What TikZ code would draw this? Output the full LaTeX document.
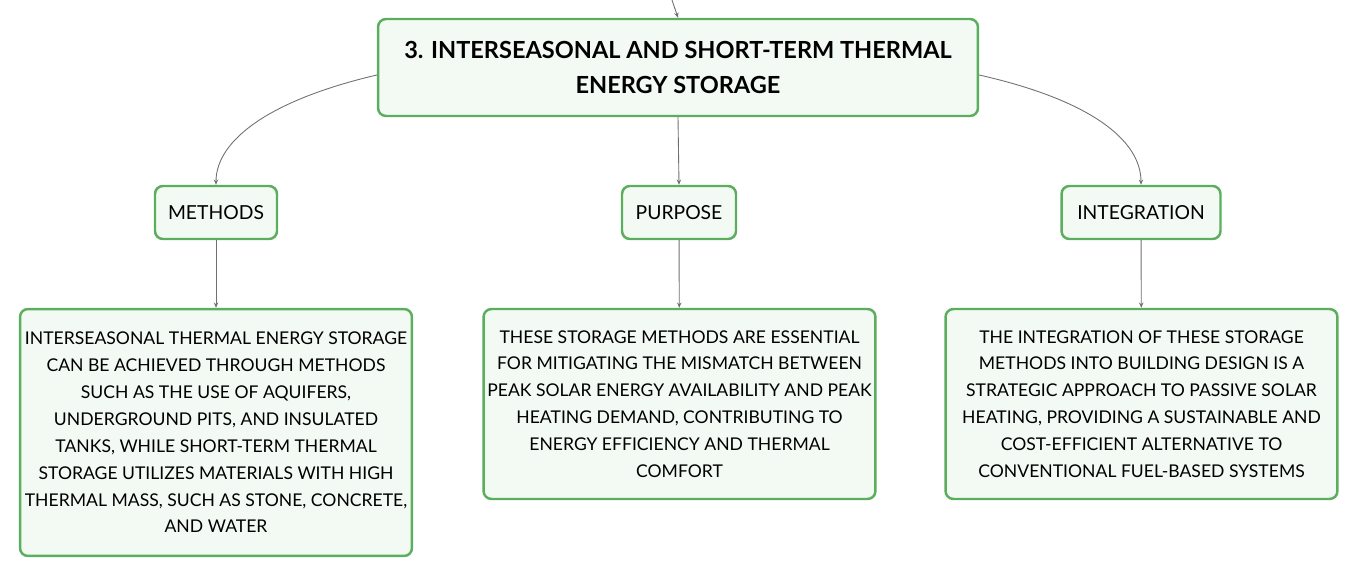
\documentclass[tikz,border=0pt]{standalone}
\usepackage{fontspec}
\setmainfont{Lato}
\usetikzlibrary{arrows.meta}
\definecolor{boxgreen}{HTML}{5AAE5E}
\definecolor{boxfill}{HTML}{F3FAF4}
\definecolor{linkgray}{HTML}{707070}
\tikzset{
  box/.style={draw=boxgreen, line width=1.4pt, fill=boxfill, rounded corners=4.5pt, align=center, inner sep=0pt},
  topic/.style={box, minimum width=12cm, minimum height=1.94cm, font=\bfseries\fontsize{13.4}{19.8}\selectfont},
  branch/.style={box, minimum height=1.06cm, font=\fontsize{11}{14}\selectfont},
  leaf/.style={box, minimum width=7.84cm, font=\fontsize{10}{15.3}\selectfont},
  link/.style={draw=linkgray, line width=0.5pt, -{Stealth[length=3pt,width=2.5pt]}}
}
\begin{document}
\begin{tikzpicture}[x=0.02cm, y=-0.02cm]
    \useasboundingbox (0, 0) rectangle (1359, 577);
    \node[topic] (storage) at (678, 67.5) {3. INTERSEASONAL AND SHORT-TERM THERMAL\\ENERGY STORAGE};
    \coordinate (parent) at (672, 0);

    \node[branch, minimum width=2.44cm] (methods) at (216, 212.5) {METHODS};
    \node[branch, minimum width=2.28cm] (purpose) at (679, 212.5) {PURPOSE};
    \node[branch, minimum width=3.18cm] (integration) at (1141, 212.5) {INTEGRATION};

    \node[leaf, minimum height=4.94cm] (methodstext) at (216, 432.5) {INTERSEASONAL THERMAL ENERGY STORAGE\\CAN BE ACHIEVED THROUGH METHODS\\SUCH AS THE USE OF AQUIFERS,\\UNDERGROUND PITS, AND INSULATED\\TANKS, WHILE SHORT-TERM THERMAL\\STORAGE UTILIZES MATERIALS WITH HIGH\\THERMAL MASS, SUCH AS STONE, CONCRETE,\\AND WATER};
    \node[leaf, minimum height=3.8cm] (purposetext) at (679.5, 404) {THESE STORAGE METHODS ARE ESSENTIAL\\FOR MITIGATING THE MISMATCH BETWEEN\\PEAK SOLAR ENERGY AVAILABILITY AND PEAK\\HEATING DEMAND, CONTRIBUTING TO\\ENERGY EFFICIENCY AND THERMAL\\COMFORT};
    \node[leaf, minimum height=3.8cm] (integrationtext) at (1141.5, 404) {THE INTEGRATION OF THESE STORAGE\\METHODS INTO BUILDING DESIGN IS A\\STRATEGIC APPROACH TO PASSIVE SOLAR\\HEATING, PROVIDING A SUSTAINABLE AND\\COST-EFFICIENT ALTERNATIVE TO\\CONVENTIONAL FUEL-BASED SYSTEMS};

    % links
    \draw[link] (parent) -- (storage.north);
    \draw[link] (storage.west |- 0, 75) .. controls (270, 100) and (216, 140) .. (methods.north);
    \draw[link] (storage.south) -- (purpose.north);
    \draw[link] (storage.east |- 0, 75) .. controls (1090, 100) and (1141, 140) .. (integration.north);
    \draw[link] (methods) -- (methodstext);
    \draw[link] (purpose) -- (purposetext);
    \draw[link] (integration) -- (integrationtext);
\end{tikzpicture}
\end{document}
